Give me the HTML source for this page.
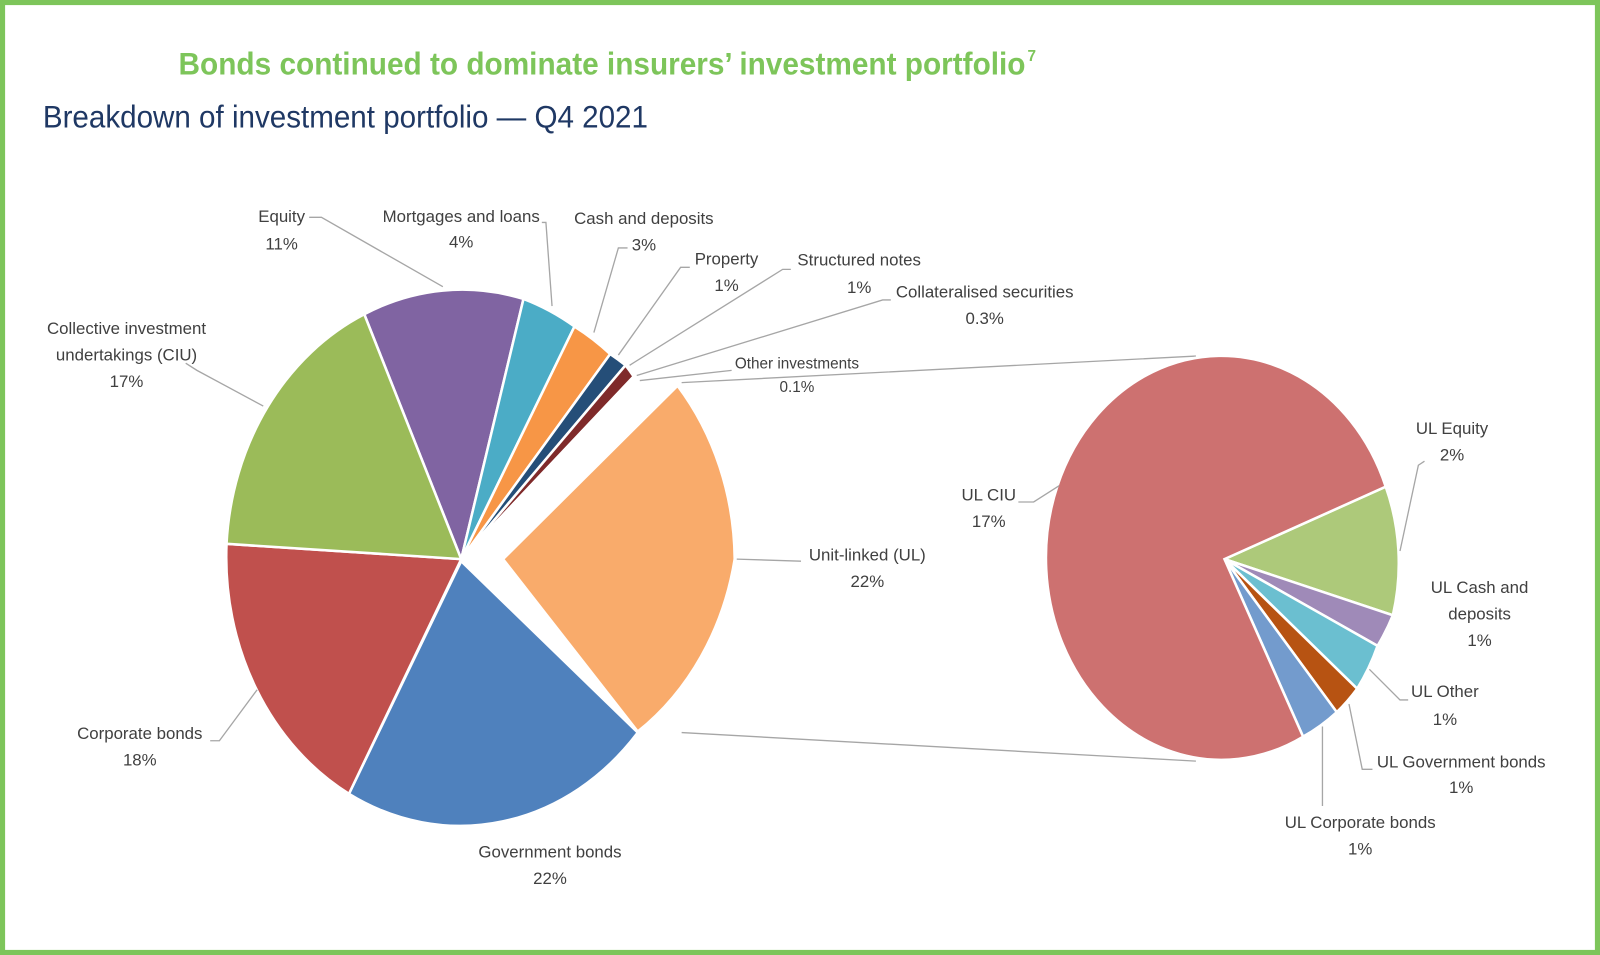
<!DOCTYPE html>
<html><head><meta charset="utf-8"><style>
html,body{margin:0;padding:0;background:#fff;}
svg{display:block;}
text{font-family:"Liberation Sans",sans-serif;}
.l{font-size:16.5px;fill:#404040;text-anchor:middle;dominant-baseline:middle;}
.ld{stroke:#a6a6a6;stroke-width:1.3;fill:none;}
.s{stroke:#fff;stroke-width:2.5;}
</style></head><body>
<svg width="1600" height="955" viewBox="0 0 1568 936" preserveAspectRatio="none">
<rect x="2.5" y="2.5" width="1563" height="931" fill="#fff" stroke="#7dc55a" stroke-width="5"/>
<text x="175" y="73" font-size="31" font-weight="bold" fill="#7dc55a" textLength="830" lengthAdjust="spacingAndGlyphs">Bonds continued to dominate insurers’ investment portfolio</text>
<text x="1007" y="60" font-size="15" font-weight="bold" fill="#7dc55a">7</text>
<text x="42" y="125" font-size="31" fill="#1f3864" textLength="593" lengthAdjust="spacingAndGlyphs">Breakdown of investment portfolio — Q4 2021</text>

<g class="s">
<path d="M452,548 L357,308 A230 264 0 0 1 513,293 Z" fill="#8064a2"/>
<path d="M452,548 L513,293 A230 264 0 0 1 563,320 Z" fill="#4bacc6"/>
<path d="M452,548 L563,320 A230 264 0 0 1 598,347 Z" fill="#f79646"/>
<path d="M452,548 L598,347 A230 264 0 0 1 613,358 Z" fill="#254e78"/>
<path d="M452,548 L613,358 A230 264 0 0 1 621,369 Z" fill="#7f2a2a"/>
<path d="M452,548 L621,369 A230 264 0 0 1 622,371 Z" fill="#4f6228"/>
<path d="M493,548 L664,378 A230 264 0 0 1 720,548 A230 264 0 0 1 625,717 Z" fill="#f9ab6b"/>
<path d="M452,550 L625,718 A230 264 0 0 1 342,778 Z" fill="#4f81bd"/>
<path d="M452,548 L342,778 A230 264 0 0 1 222,533 Z" fill="#c0504d"/>
<path d="M452,548 L222,533 A230 264 0 0 1 357,308 Z" fill="#9bbb59"/>
</g>

<path class="ld" d="M668,375 L1172,349 M668,718 L1172,746"/>

<g class="s" stroke-width="2">
<path d="M1200,548 L1358,477 A172 198 0 0 1 1365,603 Z" fill="#adc97a"/>
<path d="M1200,548 L1365,603 A172 198 0 0 1 1350,633 Z" fill="#9f8ab8"/>
<path d="M1200,548 L1350,633 A172 198 0 0 1 1330,675 Z" fill="#6bbfd0"/>
<path d="M1200,548 L1330,675 A172 198 0 0 1 1310,698 Z" fill="#b75312"/>
<path d="M1200,548 L1310,698 A172 198 0 0 1 1277,722 Z" fill="#739bcd"/>
<path d="M1200,548 L1277,722 A172 198 0 1 1 1358,477 Z" fill="#cd7170"/>
</g>

<path class="ld" d="M303,213 L315,213 L434,281
M531,218 L535,218 L541,300
M615,243 L606,243 L582,326
M676,262 L667,262 L606,348
M775,264 L767,264 L617,358
M873,294 L865,294 L624,368
M717,363 L627,373
M182,356 L193,363 L258,398
M206,726 L215,726 L252,676
M722,548 L785,550
M998,492 L1013,492 L1038,476
M1396,452 L1390,456 L1372,540
M1380,686 L1372,686 L1342,656
M1345,754 L1335,754 L1322,690
M1296,790 L1296,712"/>

<g class="l">
<text x="276" y="213">Equity</text><text x="276" y="240">11%</text>
<text x="452" y="213">Mortgages and loans</text><text x="452" y="238">4%</text>
<text x="631" y="215">Cash and deposits</text><text x="631" y="241">3%</text>
<text x="712" y="255">Property</text><text x="712" y="281">1%</text>
<text x="842" y="256">Structured notes</text><text x="842" y="283">1%</text>
<text x="965" y="287">Collateralised securities</text><text x="965" y="313">0.3%</text>
<text x="781" y="357" font-size="15">Other investments</text><text x="781" y="380" font-size="15">0.1%</text>
<text x="124" y="323">Collective investment</text><text x="124" y="349">undertakings (CIU)</text><text x="124" y="375">17%</text>
<text x="137" y="720">Corporate bonds</text><text x="137" y="746">18%</text>
<text x="539" y="836">Government bonds</text><text x="539" y="862">22%</text>
<text x="850" y="545">Unit-linked (UL)</text><text x="850" y="571">22%</text>
<text x="969" y="486">UL CIU</text><text x="969" y="512">17%</text>
<text x="1423" y="421">UL Equity</text><text x="1423" y="447">2%</text>
<text x="1450" y="577">UL Cash and</text><text x="1450" y="603">deposits</text><text x="1450" y="629">1%</text>
<text x="1416" y="679">UL Other</text><text x="1416" y="706">1%</text>
<text x="1432" y="748">UL Government bonds</text><text x="1432" y="773">1%</text>
<text x="1333" y="807">UL Corporate bonds</text><text x="1333" y="833">1%</text>
</g>
</svg>
</body></html>
